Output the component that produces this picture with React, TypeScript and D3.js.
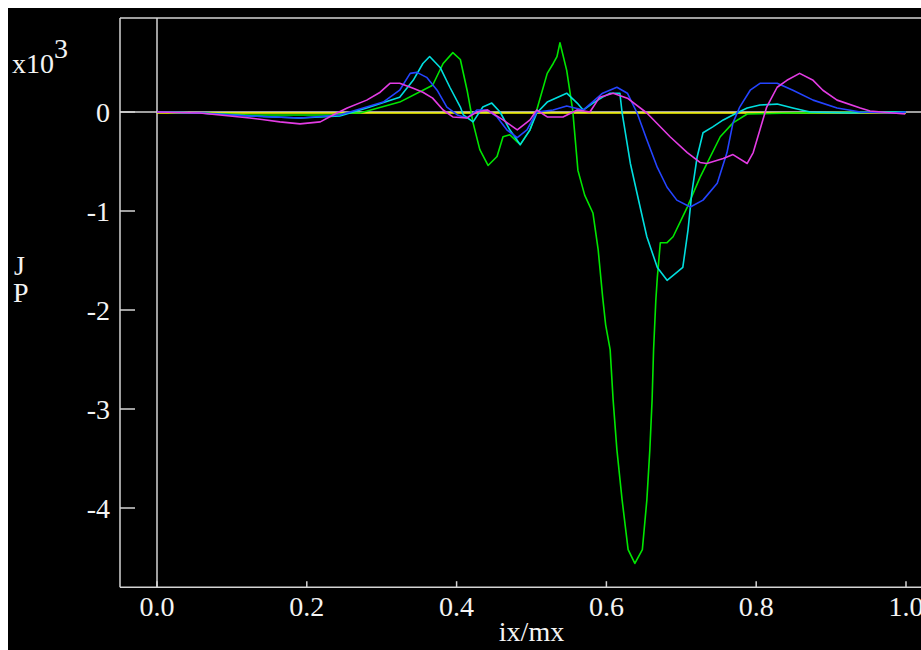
import { useMemo } from 'react';
import * as d3 from 'd3';

const W = 913;
const H = 642;
const FONT = '"Liberation Serif", "Times New Roman", serif';

// x: ix/mx, y: J_P in units of 10^3
const yellowSeries: [number, number][] = [
  [0, -0.01], [1, -0.01],
];

const greenSeries: [number, number][] = [
  [0, 0], [0.057, -0.01], [0.124, -0.03], [0.191, -0.03], [0.231, -0.03], [0.258, -0.01],
  [0.271, -0.01], [0.324, 0.1], [0.368, 0.27], [0.382, 0.49], [0.395, 0.6], [0.405, 0.53],
  [0.414, 0.22], [0.422, -0.11], [0.431, -0.38], [0.442, -0.54], [0.454, -0.45], [0.462, -0.25],
  [0.471, -0.23], [0.485, -0.33], [0.498, -0.18], [0.507, 0.02], [0.521, 0.39], [0.529, 0.49],
  [0.534, 0.56], [0.538, 0.7], [0.547, 0.42], [0.555, 0.02], [0.562, -0.59], [0.571, -0.84],
  [0.582, -1.02], [0.589, -1.39], [0.595, -1.87], [0.599, -2.15], [0.605, -2.4], [0.609, -2.91],
  [0.614, -3.41], [0.621, -3.92], [0.629, -4.42], [0.638, -4.56], [0.648, -4.42], [0.654, -3.92],
  [0.658, -3.41], [0.661, -2.91], [0.663, -2.4], [0.666, -1.9], [0.668, -1.67], [0.672, -1.32],
  [0.681, -1.32], [0.689, -1.26], [0.708, -0.96], [0.725, -0.66], [0.752, -0.25], [0.769, -0.11],
  [0.788, -0.02], [0.85, -0.01], [0.95, 0], [1, 0],
];

const cyanSeries: [number, number][] = [
  [0, 0], [0.057, -0.01], [0.124, -0.04], [0.191, -0.06], [0.244, -0.04], [0.28, 0.04],
  [0.324, 0.15], [0.342, 0.32], [0.355, 0.49], [0.364, 0.56], [0.378, 0.45], [0.391, 0.25],
  [0.405, 0.05], [0.409, -0.03], [0.422, -0.1], [0.435, 0.05], [0.447, 0.09], [0.458, 0],
  [0.471, -0.18], [0.485, -0.33], [0.498, -0.18], [0.507, -0.01], [0.521, 0.1], [0.547, 0.19],
  [0.561, 0.09], [0.569, 0.02], [0.582, 0.09], [0.595, 0.15], [0.605, 0.19], [0.618, 0.19],
  [0.621, -0.01], [0.632, -0.52], [0.645, -0.96], [0.654, -1.26], [0.668, -1.57], [0.681, -1.7],
  [0.694, -1.62], [0.702, -1.57], [0.709, -1.19], [0.714, -0.82], [0.721, -0.46], [0.729, -0.21],
  [0.742, -0.15], [0.756, -0.08], [0.774, -0.01], [0.788, 0.04], [0.805, 0.07], [0.828, 0.08],
  [0.849, 0.04], [0.872, 0], [0.925, -0.01], [0.965, 0], [1, 0],
];

const blueSeries: [number, number][] = [
  [0, 0], [0.057, -0.01], [0.124, -0.04], [0.191, -0.06], [0.244, -0.03], [0.302, 0.1],
  [0.324, 0.22], [0.338, 0.39], [0.347, 0.4], [0.36, 0.35], [0.374, 0.22], [0.387, 0.05],
  [0.401, -0.03], [0.414, -0.06], [0.427, 0.02], [0.441, 0.02], [0.454, -0.05], [0.467, -0.18],
  [0.481, -0.26], [0.494, -0.18], [0.507, 0], [0.529, 0.02], [0.547, 0.06], [0.569, 0.02],
  [0.595, 0.19], [0.614, 0.25], [0.628, 0.19], [0.641, -0.01], [0.654, -0.28], [0.668, -0.56],
  [0.681, -0.76], [0.694, -0.89], [0.712, -0.96], [0.729, -0.89], [0.748, -0.72], [0.761, -0.41],
  [0.769, -0.11], [0.778, 0.05], [0.792, 0.22], [0.805, 0.29], [0.828, 0.29], [0.849, 0.22],
  [0.876, 0.12], [0.908, 0.04], [0.939, 0], [0.981, -0.01], [1, 0],
];

const magentaSeries: [number, number][] = [
  [0, 0], [0.057, -0.01], [0.124, -0.06], [0.164, -0.1], [0.191, -0.12], [0.218, -0.1],
  [0.235, -0.03], [0.254, 0.04], [0.28, 0.12], [0.298, 0.2], [0.311, 0.29], [0.324, 0.29],
  [0.342, 0.24], [0.355, 0.2], [0.368, 0.14], [0.382, 0.02], [0.395, -0.05], [0.414, -0.06],
  [0.427, 0], [0.441, 0.02], [0.462, -0.08], [0.481, -0.18], [0.498, -0.08], [0.507, 0.02],
  [0.521, -0.05], [0.542, -0.05], [0.561, 0.02], [0.578, 0], [0.591, 0.15], [0.609, 0.19],
  [0.628, 0.14], [0.654, -0.01], [0.685, -0.25], [0.708, -0.41], [0.725, -0.51], [0.734, -0.52],
  [0.756, -0.47], [0.769, -0.43], [0.788, -0.52], [0.796, -0.41], [0.805, -0.18], [0.814, 0.05],
  [0.828, 0.25], [0.841, 0.32], [0.858, 0.39], [0.876, 0.32], [0.889, 0.22], [0.908, 0.12],
  [0.939, 0.04], [0.952, 0.01], [0.983, -0.01], [0.999, -0.02],
];

const xTicks = [0, 0.2, 0.4, 0.6, 0.8, 1.0];
const yTicks = [0, -1, -2, -3, -4];

const seriesList = [
  { data: yellowSeries, color: '#ffff00' },
  { data: greenSeries, color: '#00e600' },
  { data: cyanSeries, color: '#00dede' },
  { data: blueSeries, color: '#2444ff' },
  { data: magentaSeries, color: '#e43ce4' },
];

const AXIS = '#d4d4d4';
const TEXT = '#f4f4f4';

export default function App() {
  const x = d3.scaleLinear().domain([0, 1]).range([149, 898]);
  const y = d3.scaleLinear().domain([0, -4]).range([104, 500]);

  const frameLeft = x(-0.0494);
  const frameTop = y(0.95);
  const frameBottom = y(-4.8);

  const line = useMemo(
    () =>
      d3
        .line<[number, number]>()
        .x((d) => x(d[0]))
        .y((d) => y(d[1])),
    []
  );

  return (
    <svg
      width={W}
      height={H}
      style={{ position: 'fixed', left: 8, top: 8, display: 'block', background: '#000' }}
    >
      <rect x={0} y={0} width={W} height={H} fill="#000" />

      {/* frame */}
      <line x1={frameLeft} x2={W + 5} y1={frameTop} y2={frameTop} stroke={AXIS} strokeWidth={1.5} />
      <line x1={frameLeft} x2={frameLeft} y1={frameTop} y2={frameBottom} stroke={AXIS} strokeWidth={1.5} />
      <line x1={frameLeft} x2={W + 5} y1={frameBottom} y2={frameBottom} stroke={AXIS} strokeWidth={1.5} />

      {/* zero lines */}
      <line x1={frameLeft} x2={W + 5} y1={y(0)} y2={y(0)} stroke={AXIS} strokeWidth={1.5} />
      <line x1={x(0)} x2={x(0)} y1={frameTop} y2={frameBottom} stroke={AXIS} strokeWidth={1.5} />

      {/* y ticks */}
      {yTicks.map((t) => (
        <g key={t}>
          <line x1={frameLeft} x2={frameLeft + 15} y1={y(t)} y2={y(t)} stroke={AXIS} strokeWidth={1.5} />
          <text
            x={frameLeft - 10}
            y={y(t)}
            dy="0.34em"
            textAnchor="end"
            fontFamily={FONT}
            fontSize={28}
            fill={TEXT}
          >
            {t === 0 ? '0' : `-${Math.abs(t)}`}
          </text>
        </g>
      ))}

      {/* x ticks */}
      {xTicks.map((t) => (
        <g key={t}>
          <line x1={x(t)} x2={x(t)} y1={frameBottom} y2={frameBottom - 6} stroke={AXIS} strokeWidth={1.5} />
          <text
            x={x(t)}
            y={frameBottom + 29}
            textAnchor="middle"
            fontFamily={FONT}
            fontSize={28}
            fill={TEXT}
          >
            {t.toFixed(1)}
          </text>
        </g>
      ))}

      {/* series */}
      {seriesList.map((s, i) => (
        <path
          key={i}
          d={line(s.data) ?? ''}
          fill="none"
          stroke={s.color}
          strokeWidth={1.6}
          strokeLinejoin="round"
        />
      ))}

      {/* labels */}
      <text x={4} y={65} fontFamily={FONT} fontSize={28} fill={TEXT}>
        x10
      </text>
      <text x={46} y={50} fontFamily={FONT} fontSize={28} fill={TEXT}>
        3
      </text>
      <text x={6} y={267} fontFamily={FONT} fontSize={28} fill={TEXT}>
        J
      </text>
      <text x={5} y={294} fontFamily={FONT} fontSize={28} fill={TEXT}>
        P
      </text>
      <text x={x(0.5)} y={633} textAnchor="middle" fontFamily={FONT} fontSize={28} fill={TEXT}>
        ix/mx
      </text>
    </svg>
  );
}
